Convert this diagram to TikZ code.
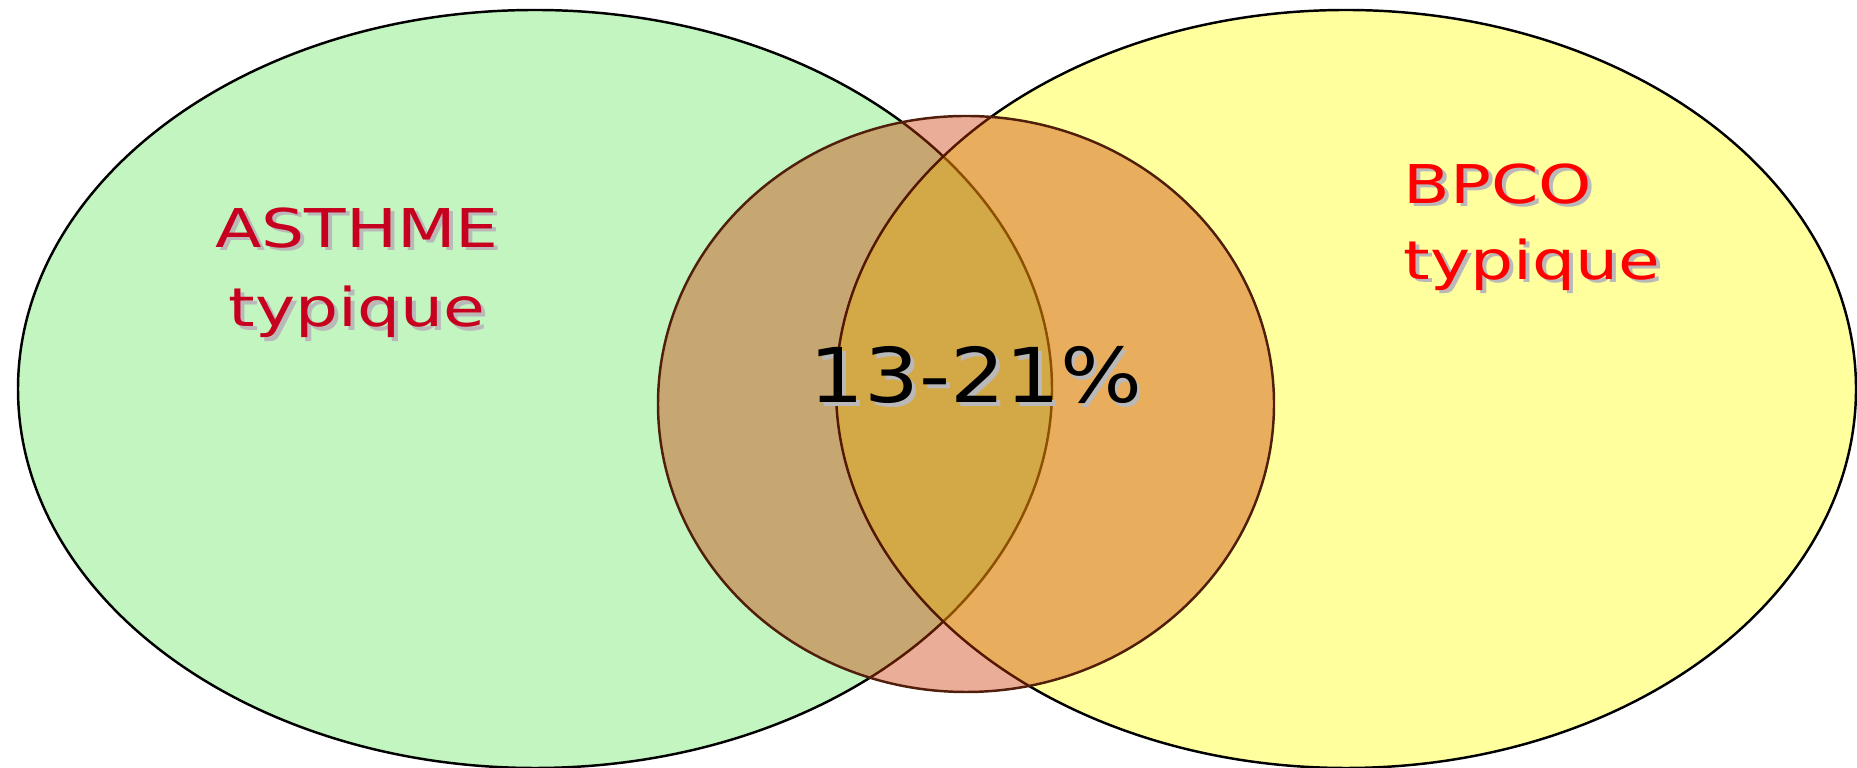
\documentclass[tikz,border=0pt]{standalone}
\usepackage{fontspec}
\usepackage{graphicx}
\newfontfamily\vennfont{DejaVu Sans}
\definecolor{asthmegreen}{RGB}{194,245,192}
\definecolor{bpcoyellow}{RGB}{255,255,0}
\definecolor{mixred}{RGB}{204,57,4}
\definecolor{asthmered}{RGB}{200,0,32}
\definecolor{bpcored}{RGB}{255,0,0}
\definecolor{shadowgray}{RGB}{185,185,185}
\newcommand{\shadowed}[1]{\leavevmode\rlap{\hspace{0.9pt}\raisebox{-0.9pt}{\textcolor{shadowgray}{#1}}}#1}

\begin{document}
\begin{tikzpicture}[x=0.01cm,y=-0.01cm]
\useasboundingbox (0,0) rectangle (1857,768);
\coordinate (G) at (535,389); \coordinate (Y) at (1346,389); \coordinate (M) at (966,404);
\draw[line width=0.7pt, fill=asthmegreen] (G) ellipse [x radius=517, y radius=379];
\draw[line width=0.7pt, fill=bpcoyellow, fill opacity=0.38] (Y) ellipse [x radius=510, y radius=379];
\draw[line width=0.7pt, draw={rgb,255:red,80;green,30;blue,10}, fill=mixred, fill opacity=0.41] (M) ellipse [x radius=308, y radius=288];
\node[anchor=north, inner sep=0, align=center, text=asthmered, font=\vennfont\fontsize{15.2}{22.6}\selectfont] (asthme) at (357,207)
  {\scalebox{1.27}[1]{\shadowed{ASTHME}}\\\scalebox{1.27}[1]{\shadowed{typique}}};
\node[anchor=north west, inner sep=0, align=left, text=bpcored, font=\vennfont\fontsize{15.2}{21.6}\selectfont] (bpco) at (1403,163)
  {\scalebox{1.27}[1]{\shadowed{BPCO}}\\\scalebox{1.27}[1]{\shadowed{typique}}};
\node[anchor=base, inner sep=0, font=\vennfont\fontsize{21.5}{26}\selectfont] (overlap) at (976,403)
  {\scalebox{1.14}[1]{\shadowed{13-21\%}}};
\end{tikzpicture}
\end{document}
